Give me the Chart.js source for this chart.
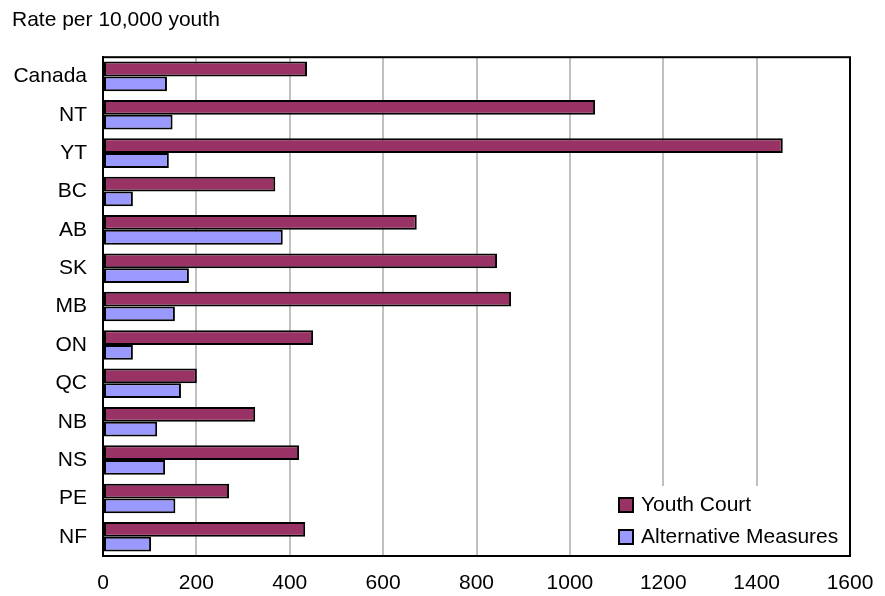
<!DOCTYPE html>
<html>
<head>
<meta charset="utf-8">
<script src="https://cdn.jsdelivr.net/npm/chart.js@4.4.0/dist/chart.umd.min.js"></script>
<style>
  body { margin: 0; background: #fff; }
  #wrap { width: 885px; height: 596px; }
</style>
</head>
<body>
<div id="wrap"><canvas id="myChart"></canvas></div>
<script>
const categories = ['Canada', 'NT', 'YT', 'BC', 'AB', 'SK', 'MB', 'ON', 'QC', 'NB', 'NS', 'PE', 'NF'];
const youthCourt = [437, 1054, 1456, 369, 672, 844, 874, 450, 201, 326, 420, 270, 433];
const altMeasures = [137, 149, 141, 64, 385, 184, 154, 64, 167, 116, 133, 155, 103];
const xTicks = [0, 200, 400, 600, 800, 1000, 1200, 1400, 1600];

const fontFamily = '"Liberation Sans", Arial, Helvetica, sans-serif';

// legend inside the plot (bottom right) + black frame round the plot
const boxPlugin = {
  id: 'boxPlugin',
  afterDraw(chart) {
    const ctx = chart.ctx;
    const area = chart.chartArea;
    ctx.save();

    // legend
    ctx.fillStyle = '#fff';
    ctx.fillRect(610, 486, area.right - 610, area.bottom - 486);
    ctx.font = '21px ' + fontFamily;
    ctx.textBaseline = 'middle';
    chart.data.datasets.forEach((ds, i) => {
      const y = 505 + i * 32;
      ctx.fillStyle = ds.backgroundColor;
      ctx.fillRect(619, y - 7, 14, 14);
      ctx.strokeStyle = '#000';
      ctx.lineWidth = 2;
      ctx.strokeRect(619, y - 7, 14, 14);
      ctx.fillStyle = '#000';
      ctx.fillText(ds.label, 641, y);
    });

    // plot frame
    ctx.strokeStyle = '#000';
    ctx.lineWidth = 2;
    ctx.strokeRect(area.left, area.top, area.right - area.left, area.bottom - area.top);
    ctx.restore();
  }
};

const ctx = document.getElementById('myChart');

const chart = new Chart(ctx, {
  type: 'bar',
  data: {
    labels: categories,
    datasets: [{
      label: 'Youth Court',
      data: youthCourt,
      backgroundColor: '#993366',
      borderColor: '#000',
      borderWidth: 2,
      borderSkipped: false
    }, {
      label: 'Alternative Measures',
      data: altMeasures,
      backgroundColor: '#9999ff',
      borderColor: '#000',
      borderWidth: 2,
      borderSkipped: false
    }]
  },
  options: {
    indexAxis: 'y',
    responsive: true,
    maintainAspectRatio: false,
    animation: false,
    layout: { padding: { left: 12, right: 35, top: 0, bottom: 0 } },
    datasets: {
      bar: { categoryPercentage: 0.77, barPercentage: 1.0 }
    },
    plugins: {
      legend: { display: false },
      tooltip: { enabled: false },
      title: {
        display: true,
        text: 'Rate per 10,000 youth',
        align: 'start',
        color: '#000',
        font: { family: fontFamily, size: 21, weight: 'normal' },
        padding: { top: 8, bottom: 24 }
      }
    },
    scales: {
      x: {
        min: 0,
        max: 1600,
        afterBuildTicks(scale) {
          scale.ticks = xTicks.map(v => ({ value: v }));
        },
        afterFit(scale) {
          scale.height = 40;
          scale.paddingLeft = 0;
          scale.paddingRight = 0;
        },
        grid: { color: '#c0c0c0', lineWidth: 2, drawTicks: false },
        border: { display: true, color: '#000', width: 2 },
        ticks: {
          color: '#000',
          padding: 15,
          maxRotation: 0,
          font: { family: fontFamily, size: 21 },
          callback: v => String(v)
        }
      },
      y: {
        afterFit(scale) { scale.width = 91; },
        grid: { display: false, drawTicks: false },
        border: { display: true, color: '#000', width: 2 },
        ticks: {
          color: '#000',
          padding: 16,
          font: { family: fontFamily, size: 21 }
        }
      }
    }
  },
  plugins: [boxPlugin]
});
</script>
</body>
</html>
